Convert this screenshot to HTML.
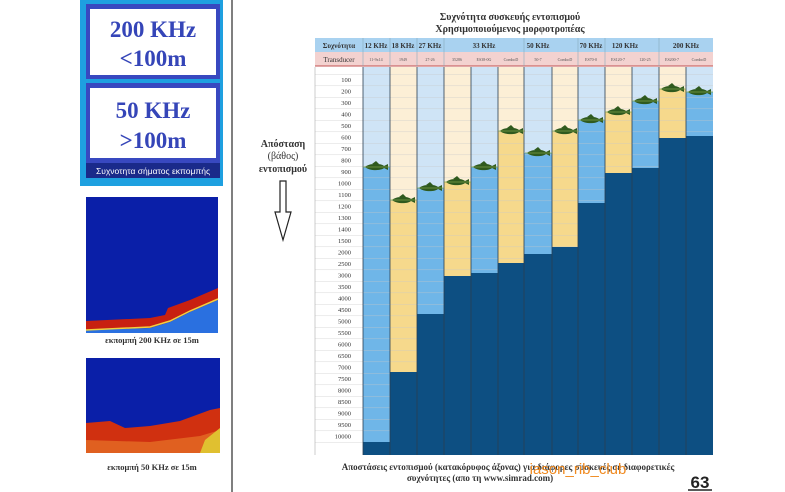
<!DOCTYPE html>
<html><head><meta charset="utf-8"><style>
html,body{margin:0;padding:0;background:#fff;width:785px;height:492px;overflow:hidden}
svg{display:block}
text{font-family:"Liberation Serif","DejaVu Serif",serif}
</style></head><body>
<svg width="785" height="492" viewBox="0 0 785 492" xmlns="http://www.w3.org/2000/svg">
<defs>
<g id="fish">
<path d="M-11,0 C-7,-4 5,-4 8,-1 L12,-3 L12,3 L8,1 C5,4 -7,4 -11,0 Z" fill="#2f5a1e"/>
<path d="M-4,-3 L0,-6 L3,-3 Z" fill="#2f5a1e"/>
<line x1="-13" y1="0" x2="14" y2="0" stroke="#7da24a" stroke-width="0.8"/>
</g>
</defs>
<rect x="80" y="0" width="143" height="186" fill="#1ea0e0"/>
<rect x="86" y="4" width="134" height="75" fill="#3848c0"/>
<rect x="90" y="9" width="126" height="66" fill="#fff"/>
<rect x="86" y="83" width="134" height="80" fill="#3848c0"/>
<rect x="90" y="88" width="126" height="70" fill="#fff"/>
<rect x="86" y="163" width="134" height="15" fill="#1a2a8a"/>
<text x="153" y="37" font-size="23" font-weight="bold" fill="#3545b8" text-anchor="middle">200 KHz</text>
<text x="153" y="66" font-size="23" font-weight="bold" fill="#3545b8" text-anchor="middle">&lt;100m</text>
<text x="153" y="118" font-size="23" font-weight="bold" fill="#3545b8" text-anchor="middle">50 KHz</text>
<text x="153" y="148" font-size="23" font-weight="bold" fill="#3545b8" text-anchor="middle">&gt;100m</text>
<text x="153" y="174" font-size="8.5" fill="#fff" text-anchor="middle" style="font-family:'Liberation Sans',sans-serif">Συχνοτητα σήματος εκπομπής</text>
<line x1="232" y1="0" x2="232" y2="492" stroke="#555" stroke-width="1.5"/>
<rect x="86" y="197" width="132" height="136" fill="#0a1fa8"/>
<path d="M86,321 L150,318 L165,315 L168,308 L190,300 L218,288 L218,300 L190,312 L170,322 L150,328 L86,330Z" fill="#c82010"/>
<path d="M86,330 L150,328 L170,322 L190,312 L218,300 L218,333 L86,333Z" fill="#2a70e0"/>
<path d="M86,330 L150,327 L170,321 L190,311 L218,299" stroke="#f0d040" stroke-width="1.5" fill="none"/>
<text x="152" y="343" font-size="8.5" font-weight="bold" fill="#333" text-anchor="middle">εκπομπή 200 KHz σε 15m</text>
<rect x="86" y="358" width="134" height="95" fill="#0a1fa8"/>
<path d="M86,423 L110,421 L125,428 L150,426 L180,421 L210,410 L220,408 L220,453 L86,453Z" fill="#d03010"/>
<path d="M86,440 L150,442 L200,436 L220,430 L220,453 L86,453Z" fill="#e06020"/>
<path d="M205,440 L220,428 L220,453 L200,453Z" fill="#e0c030"/>
<text x="152" y="470" font-size="8.5" font-weight="bold" fill="#333" text-anchor="middle">εκπομπή 50 KHz σε 15m</text>
<text x="510" y="20" font-size="10" font-weight="bold" fill="#333" text-anchor="middle">Συχνότητα συσκευής εντοπισμού</text>
<text x="510" y="32" font-size="10" font-weight="bold" fill="#333" text-anchor="middle">Χρησιμοποιούμενος μορφοτροπέας</text>
<text x="283" y="147" font-size="10" font-weight="bold" fill="#333" text-anchor="middle">Απόσταση</text>
<text x="283" y="159" font-size="10" fill="#333" text-anchor="middle">(βάθος)</text>
<text x="283" y="172" font-size="10" font-weight="bold" fill="#333" text-anchor="middle">εντοπισμού</text>
<path d="M280,181 L286,181 L286,212 L291,212 L283,240 L275,212 L280,212Z" fill="#fff" stroke="#222" stroke-width="1.2"/>
<rect x="315" y="38" width="398" height="14" fill="#a9d2f0"/>
<rect x="315" y="52" width="398" height="14" fill="#f3d2d0"/>
<line x1="315" y1="66" x2="713" y2="66" stroke="#c05050" stroke-width="1"/>
<g font-size="7" font-weight="bold" fill="#333" text-anchor="middle">
<text x="339" y="48">Συχνότητα</text>
<text x="376" y="48">12 KHz</text><text x="403" y="48">18 KHz</text><text x="430" y="48">27 KHz</text>
<text x="484" y="48">33 KHz</text><text x="538" y="48">50 KHz</text><text x="591" y="48">70 KHz</text>
<text x="625" y="48">120 KHz</text><text x="686" y="48">200 KHz</text>
<text x="339" y="62" font-weight="normal">Transducer</text>
</g>
<g font-size="4" fill="#555" text-anchor="middle">
<text x="376" y="61">11-9x14</text><text x="403" y="61">1949</text><text x="430" y="61">27-26</text><text x="457" y="61">35286</text><text x="484" y="61">ES38-0G</text><text x="511" y="61">ComboD</text><text x="538" y="61">50-7</text><text x="565" y="61">ComboD</text><text x="591" y="61">ES70-0</text><text x="618" y="61">ES120-7</text><text x="645" y="61">120-25</text><text x="672" y="61">ES200-7</text><text x="699" y="61">ComboD</text>
</g>
<g stroke="#8ab" stroke-width="0.6">
<line x1="363" y1="38" x2="363" y2="66"/><line x1="390" y1="38" x2="390" y2="66"/><line x1="417" y1="38" x2="417" y2="66"/><line x1="444" y1="38" x2="444" y2="66"/><line x1="524" y1="38" x2="524" y2="66"/><line x1="578" y1="38" x2="578" y2="66"/><line x1="605" y1="38" x2="605" y2="66"/><line x1="659" y1="38" x2="659" y2="66"/>
</g>
<rect x="315" y="67" width="48" height="388" fill="#fff"/>
<g>
<rect x="363" y="67" width="27" height="388" fill="#cfe4f6"/><rect x="363" y="167" width="27" height="275" fill="#6fb6e8"/>
<rect x="390" y="67" width="27" height="388" fill="#fcefd6"/><rect x="390" y="200" width="27" height="172" fill="#f6d98c"/>
<rect x="417" y="67" width="27" height="388" fill="#cfe4f6"/><rect x="417" y="188" width="27" height="126" fill="#6fb6e8"/>
<rect x="444" y="67" width="27" height="388" fill="#fcefd6"/><rect x="444" y="182" width="27" height="94" fill="#f6d98c"/>
<rect x="471" y="67" width="27" height="388" fill="#cfe4f6"/><rect x="471" y="167" width="27" height="106" fill="#6fb6e8"/>
<rect x="498" y="67" width="26" height="388" fill="#fcefd6"/><rect x="498" y="131" width="26" height="132" fill="#f6d98c"/>
<rect x="524" y="67" width="28" height="388" fill="#cfe4f6"/><rect x="524" y="153" width="28" height="101" fill="#6fb6e8"/>
<rect x="552" y="67" width="26" height="388" fill="#fcefd6"/><rect x="552" y="131" width="26" height="116" fill="#f6d98c"/>
<rect x="578" y="67" width="27" height="388" fill="#cfe4f6"/><rect x="578" y="120" width="27" height="83" fill="#6fb6e8"/>
<rect x="605" y="67" width="27" height="388" fill="#fcefd6"/><rect x="605" y="112" width="27" height="61" fill="#f6d98c"/>
<rect x="632" y="67" width="27" height="388" fill="#cfe4f6"/><rect x="632" y="101" width="27" height="67" fill="#6fb6e8"/>
<rect x="659" y="67" width="27" height="388" fill="#fcefd6"/><rect x="659" y="89" width="27" height="49" fill="#f6d98c"/>
<rect x="686" y="67" width="27" height="388" fill="#cfe4f6"/><rect x="686" y="92" width="27" height="44" fill="#6fb6e8"/>
</g>
<g stroke="#c8c8c8" stroke-width="0.5" opacity="0.7">
<line x1="315" y1="74.3" x2="713" y2="74.3"/><line x1="315" y1="85.8" x2="713" y2="85.8"/><line x1="315" y1="97.3" x2="713" y2="97.3"/><line x1="315" y1="108.8" x2="713" y2="108.8"/><line x1="315" y1="120.3" x2="713" y2="120.3"/><line x1="315" y1="131.8" x2="713" y2="131.8"/><line x1="315" y1="143.3" x2="713" y2="143.3"/><line x1="315" y1="154.8" x2="713" y2="154.8"/><line x1="315" y1="166.3" x2="713" y2="166.3"/><line x1="315" y1="177.8" x2="713" y2="177.8"/><line x1="315" y1="189.3" x2="713" y2="189.3"/><line x1="315" y1="200.8" x2="713" y2="200.8"/><line x1="315" y1="212.3" x2="713" y2="212.3"/><line x1="315" y1="223.8" x2="713" y2="223.8"/><line x1="315" y1="235.3" x2="713" y2="235.3"/><line x1="315" y1="246.8" x2="713" y2="246.8"/><line x1="315" y1="258.3" x2="713" y2="258.3"/><line x1="315" y1="269.8" x2="713" y2="269.8"/><line x1="315" y1="281.3" x2="713" y2="281.3"/><line x1="315" y1="292.8" x2="713" y2="292.8"/><line x1="315" y1="304.3" x2="713" y2="304.3"/><line x1="315" y1="315.8" x2="713" y2="315.8"/><line x1="315" y1="327.3" x2="713" y2="327.3"/><line x1="315" y1="338.8" x2="713" y2="338.8"/><line x1="315" y1="350.3" x2="713" y2="350.3"/><line x1="315" y1="361.8" x2="713" y2="361.8"/><line x1="315" y1="373.3" x2="713" y2="373.3"/><line x1="315" y1="384.8" x2="713" y2="384.8"/><line x1="315" y1="396.3" x2="713" y2="396.3"/><line x1="315" y1="407.8" x2="713" y2="407.8"/><line x1="315" y1="419.3" x2="713" y2="419.3"/><line x1="315" y1="430.8" x2="713" y2="430.8"/><line x1="315" y1="442.3" x2="713" y2="442.3"/>
</g>
<g fill="#0d4f82">
<rect x="363" y="442" width="27" height="13"/>
<rect x="390" y="372" width="27" height="83"/>
<rect x="417" y="314" width="27" height="141"/>
<rect x="444" y="276" width="27" height="179"/>
<rect x="471" y="273" width="27" height="182"/>
<rect x="498" y="263" width="26" height="192"/>
<rect x="524" y="254" width="28" height="201"/>
<rect x="552" y="247" width="26" height="208"/>
<rect x="578" y="203" width="27" height="252"/>
<rect x="605" y="173" width="27" height="282"/>
<rect x="632" y="168" width="27" height="287"/>
<rect x="659" y="138" width="27" height="317"/>
<rect x="686" y="136" width="27" height="319"/>
</g>
<g stroke="#2a3e52" stroke-width="0.8">
<line x1="363" y1="67" x2="363" y2="455"/><line x1="390" y1="67" x2="390" y2="455"/><line x1="417" y1="67" x2="417" y2="455"/><line x1="444" y1="67" x2="444" y2="455"/><line x1="471" y1="67" x2="471" y2="455"/><line x1="498" y1="67" x2="498" y2="455"/><line x1="524" y1="67" x2="524" y2="455"/><line x1="552" y1="67" x2="552" y2="455"/><line x1="578" y1="67" x2="578" y2="455"/><line x1="605" y1="67" x2="605" y2="455"/><line x1="632" y1="67" x2="632" y2="455"/><line x1="659" y1="67" x2="659" y2="455"/><line x1="686" y1="67" x2="686" y2="455"/>
</g>
<line x1="315" y1="67" x2="315" y2="455" stroke="#aaa" stroke-width="0.6"/>
<g font-size="6.5" fill="#333" text-anchor="end">
<text x="351" y="82">100</text><text x="351" y="93.5">200</text><text x="351" y="105">300</text><text x="351" y="116.5">400</text><text x="351" y="128">500</text><text x="351" y="139.5">600</text><text x="351" y="151">700</text><text x="351" y="162.5">800</text><text x="351" y="174">900</text><text x="351" y="185.5">1000</text><text x="351" y="197">1100</text><text x="351" y="208.5">1200</text><text x="351" y="220">1300</text><text x="351" y="231.5">1400</text><text x="351" y="243">1500</text><text x="351" y="254.5">2000</text><text x="351" y="266">2500</text><text x="351" y="277.5">3000</text><text x="351" y="289">3500</text><text x="351" y="300.5">4000</text><text x="351" y="312">4500</text><text x="351" y="323.5">5000</text><text x="351" y="335">5500</text><text x="351" y="346.5">6000</text><text x="351" y="358">6500</text><text x="351" y="369.5">7000</text><text x="351" y="381">7500</text><text x="351" y="392.5">8000</text><text x="351" y="404">8500</text><text x="351" y="415.5">9000</text><text x="351" y="427">9500</text><text x="351" y="438.5">10000</text>
</g>
<use href="#fish" x="376" y="167"/><use href="#fish" x="403" y="200"/><use href="#fish" x="430" y="188"/><use href="#fish" x="457" y="182"/><use href="#fish" x="484" y="167"/><use href="#fish" x="511" y="131"/><use href="#fish" x="538" y="153"/><use href="#fish" x="565" y="131"/><use href="#fish" x="591" y="120"/><use href="#fish" x="618" y="112"/><use href="#fish" x="645" y="101"/><use href="#fish" x="672" y="89"/><use href="#fish" x="699" y="92"/>
<text x="508" y="470" font-size="9" font-weight="bold" fill="#333" text-anchor="middle">Αποστάσεις εντοπισμού (κατακόρυφος άξονας) για διάφορες συσκευές σε διαφορετικές</text>
<text x="480" y="481" font-size="9" font-weight="bold" fill="#333" text-anchor="middle">συχνότητες (απο τη www.simrad.com)</text>
<text x="578" y="474" font-size="15" fill="#f08a20" text-anchor="middle" style="font-family:'Liberation Sans',sans-serif">iason_rib_club</text>
<text x="700" y="488" font-size="17" font-weight="bold" fill="#222" text-anchor="middle" style="font-family:'Liberation Sans',sans-serif">63</text>
<line x1="688" y1="490" x2="712" y2="490" stroke="#222" stroke-width="1.5"/>
</svg>
</body></html>
